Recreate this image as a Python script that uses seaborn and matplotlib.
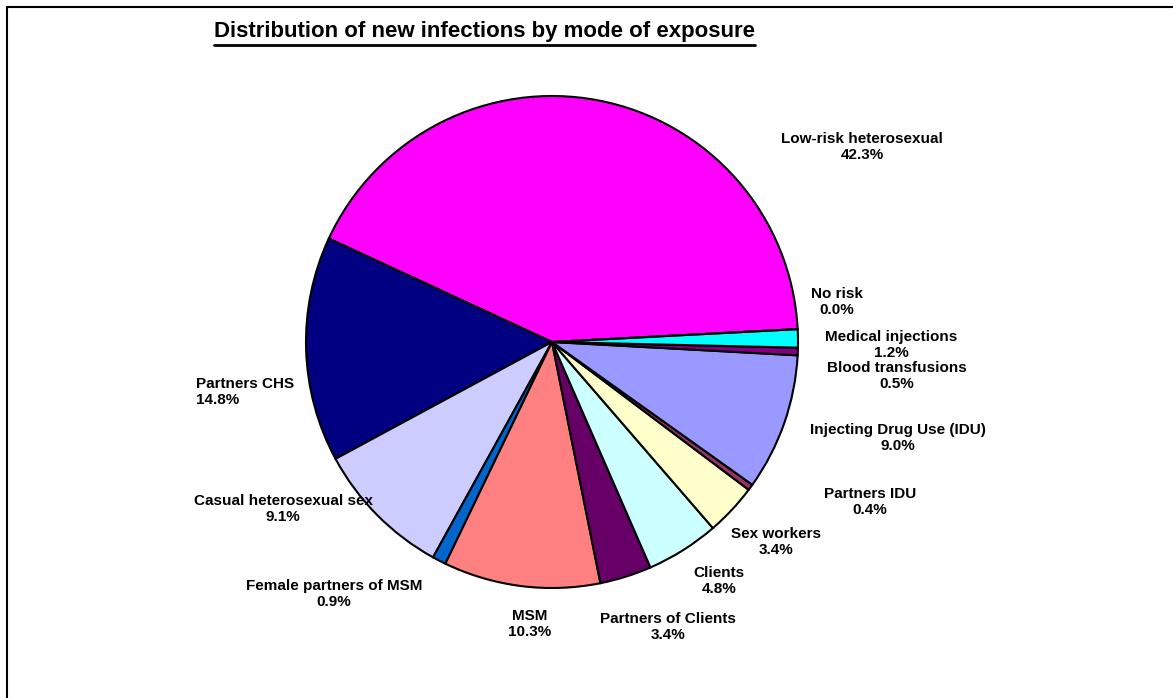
import numpy as np
import matplotlib
matplotlib.use('Agg')
import matplotlib.pyplot as plt
import seaborn as sns
from matplotlib.lines import Line2D

# Daten (Anteile in %), gegen den Uhrzeigersinn ab rechts
categories = ['Low-risk heterosexual', 'Partners CHS', 'Casual heterosexual sex',
              'Female partners of MSM', 'MSM', 'Partners of Clients', 'Clients',
              'Sex workers', 'Partners IDU', 'Injecting Drug Use (IDU)',
              'Blood transfusions', 'Medical injections', 'No risk']
shares = [42.3, 14.8, 9.1, 0.9, 10.3, 3.4, 4.8, 3.4, 0.4, 9.0, 0.5, 1.2, 0.0]
slice_colors = ['#FF00FF', '#000080', '#CCCCFF', '#0066CC', '#FF8080', '#660066',
                '#CCFFFF', '#FFFFCC', '#993366', '#9999FF', '#800080', '#00FFFF',
                '#FFFFFF']
title = 'Distribution of new infections by mode of exposure'

# Layout (Pixel, y von oben)
W, H = 1173, 698
cx, cy, R = 552, 342, 246
label_xy = [(862, 147), (196, 392), (283, 509), (334, 594), (530, 624), (668, 627),
            (719, 581), (776, 542), (870, 502), (898, 438), (897, 376), (891, 345),
            (837, 302)]
label_ha = ['center', 'left'] + ['center'] * 11

sns.set_theme(style='white')
plt.rcParams['font.family'] = ['Liberation Sans', 'DejaVu Sans']

fig = plt.figure(figsize=(W / 100, H / 100), dpi=100)
ax = fig.add_axes([0, 0, 1, 1])
ax.pie(shares, colors=slice_colors, startangle=3, counterclock=True,
       center=(cx, H - cy), radius=R, normalize=True,
       wedgeprops=dict(edgecolor='black', linewidth=1.5))
ax.set_xlim(0, W)
ax.set_ylim(0, H)
ax.set_aspect('equal')
ax.axis('off')

for cat, val, (x, y), ha in zip(categories, shares, label_xy, label_ha):
    ax.text(x, H - y, f'{cat}\n{val:.1f}%', ha=ha, va='center', ma=ha,
            fontsize=11, fontweight='bold', linespacing=1.2, color='black')

# Titel mit Unterstreichung
t = fig.text(484 / W, 1 - 32 / H, title, ha='center', va='center',
             fontsize=16, fontweight='bold', color='black')
fig.canvas.draw()
bb = t.get_window_extent()
fig.add_artist(Line2D([bb.x0 / W, bb.x1 / W], [(bb.y0 - 2) / H] * 2,
                      color='black', lw=2, transform=fig.transFigure))

# Rahmen links und oben
fig.add_artist(Line2D([7 / W, 7 / W], [0, 1 - 7 / H], color='black', lw=1.5,
                      transform=fig.transFigure))
fig.add_artist(Line2D([7 / W, 1], [1 - 7 / H, 1 - 7 / H], color='black', lw=1.5,
                      transform=fig.transFigure))

fig.savefig('out.png', dpi=100)
